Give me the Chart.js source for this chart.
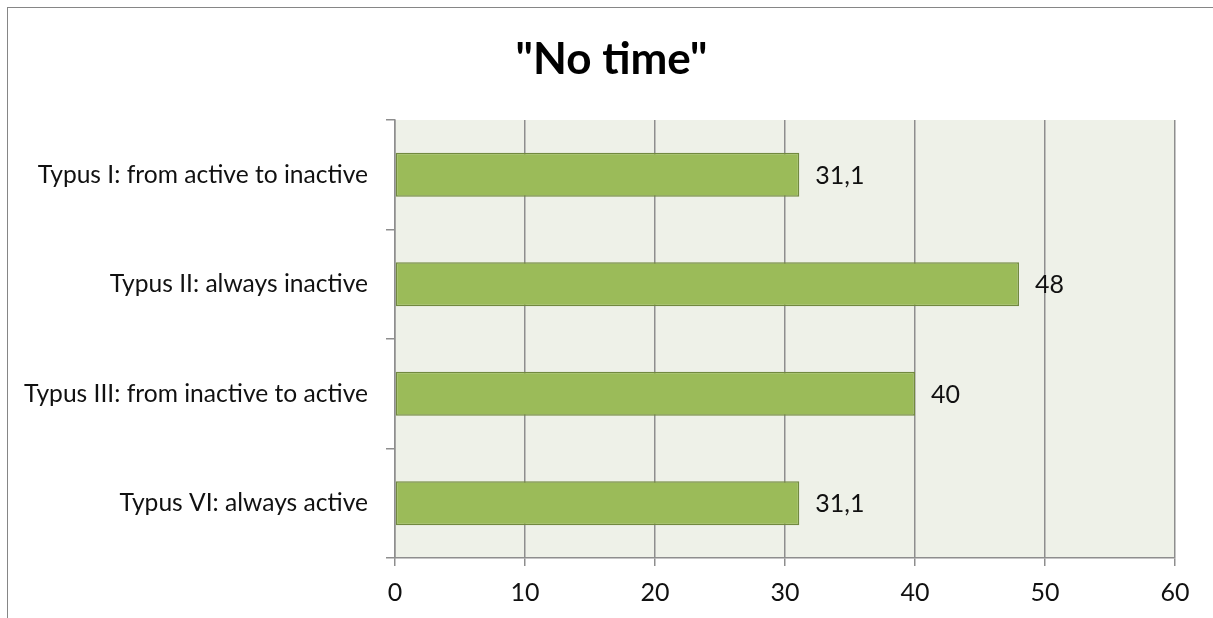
<!DOCTYPE html>
<html>
<head>
<meta charset="utf-8">
<script src="https://cdn.jsdelivr.net/npm/chart.js@4/dist/chart.umd.min.js"></script>
<style>
  html, body { margin: 0; padding: 0; background: #ffffff; overflow: hidden; }
  #wrap { position: relative; width: 1213px; height: 618px; }
  #frame { position: absolute; left: 7px; top: 7px; width: 1240px; height: 660px;
           border: 1.5px solid #868686; box-sizing: border-box; }
  #chart { position: absolute; left: 0; top: 0; }
</style>
</head>
<body>
<div id="wrap">
  <div id="frame"></div>
  <canvas id="chart" width="1213" height="618"></canvas>
</div>
<script>
// "No time" share by activity type
const categories = [
  'Typus I: from active to inactive',
  'Typus II: always inactive',
  'Typus III: from inactive to active',
  'Typus VI: always active'
];
const noTimeValues = [31.1, 48, 40, 31.1];
const xTickValues = [0, 10, 20, 30, 40, 50, 60];
const chartTitle = '"No time"';

const FONT = 'Lato, "Open Sans", sans-serif';
const GRID = '#8E8E8E';

// plot area background
const plotBackground = {
  id: 'plotBackground',
  beforeDraw(chart) {
    const { ctx, chartArea: a } = chart;
    ctx.save();
    ctx.fillStyle = '#EEF1E8';
    ctx.fillRect(a.left, a.top, a.right - a.left, a.bottom - a.top);
    ctx.restore();
  }
};

// title centred over the whole canvas
const centredTitle = {
  id: 'centredTitle',
  afterDraw(chart) {
    const { ctx, width } = chart;
    ctx.save();
    ctx.font = 'bold 44px ' + FONT;
    ctx.fillStyle = '#000000';
    ctx.textAlign = 'center';
    ctx.textBaseline = 'alphabetic';
    ctx.fillText(chartTitle, width / 2 + 5, 74);
    ctx.restore();
  }
};

// value labels to the right of each bar, decimal comma
const valueLabels = {
  id: 'valueLabels',
  afterDatasetsDraw(chart) {
    const { ctx } = chart;
    const meta = chart.getDatasetMeta(0);
    const data = chart.data.datasets[0].data;
    ctx.save();
    ctx.font = '25px ' + FONT;
    ctx.fillStyle = '#111111';
    ctx.textAlign = 'left';
    ctx.textBaseline = 'middle';
    meta.data.forEach((bar, i) => {
      const txt = String(data[i]).replace('.', ',');
      ctx.fillText(txt, bar.x + 16, bar.y + 1);
    });
    ctx.restore();
  }
};

new Chart(document.getElementById('chart'), {
  type: 'bar',
  data: {
    labels: categories,
    datasets: [{
      data: noTimeValues,
      backgroundColor: '#9BBB59',
      borderColor: '#71893F',
      borderWidth: 1.5,
      borderSkipped: false,
      categoryPercentage: 0.8,
      barPercentage: 0.5
    }]
  },
  options: {
    indexAxis: 'y',
    responsive: false,
    animation: false,
    layout: { padding: { left: 0, right: 38, top: 120, bottom: 0 } },
    plugins: {
      legend: { display: false },
      tooltip: { enabled: false },
      title: { display: false }
    },
    scales: {
      x: {
        type: 'linear',
        min: 0,
        max: 60,
        afterBuildTicks(scale) { scale.ticks = xTickValues.map(v => ({ value: v })); },
        afterFit(scale) { scale.height = 60; },
        grid: { color: GRID, lineWidth: 1.5, drawTicks: true, tickLength: 8, tickColor: GRID },
        border: { display: true, color: GRID, width: 1.5 },
        ticks: { color: '#111111', font: { family: FONT, size: 25 }, padding: 12 }
      },
      y: {
        type: 'category',
        afterFit(scale) { scale.width = 395; },
        grid: { display: true, offset: true, drawOnChartArea: false, drawTicks: true,
                tickLength: 9, color: GRID, lineWidth: 1.5 },
        border: { display: true, color: GRID, width: 1.5 },
        ticks: { color: '#111111', font: { family: FONT, size: 24.6 }, padding: 18 }
      }
    }
  },
  plugins: [plotBackground, valueLabels, centredTitle]
});
</script>
</body>
</html>
